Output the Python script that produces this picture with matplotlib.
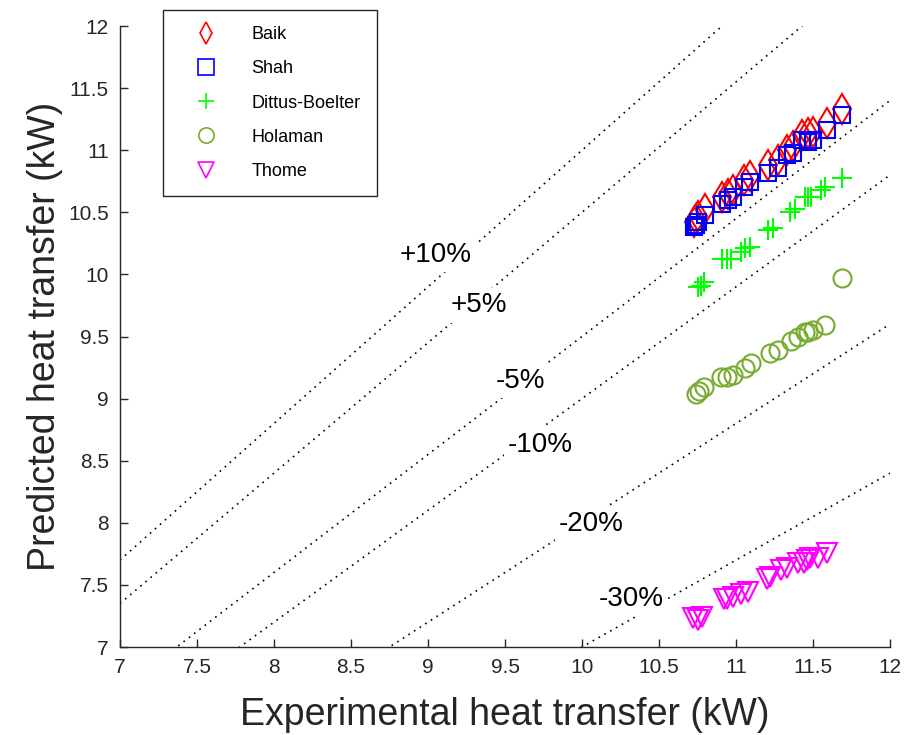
import numpy as np
import matplotlib
matplotlib.use("Agg")
import matplotlib.pyplot as plt

plt.rcParams['font.family'] = ['Liberation Sans', 'DejaVu Sans']

# ---- data ----
shah_x = [10.73, 10.74, 10.75, 10.80, 10.91, 10.95, 10.98, 11.05, 11.09, 11.21, 11.27, 11.33, 11.37, 11.43, 11.47, 11.50, 11.59, 11.69]
shah_y = [10.38, 10.40, 10.42, 10.48, 10.57, 10.60, 10.62, 10.70, 10.74, 10.82, 10.86, 10.96, 10.98, 11.08, 11.07, 11.08, 11.16, 11.28]

baik_x = [10.73, 10.74, 10.75, 10.80, 10.91, 10.95, 10.98, 11.05, 11.09, 11.21, 11.27, 11.33, 11.37, 11.43, 11.47, 11.50, 11.59, 11.69]
baik_y = [10.42, 10.45, 10.47, 10.53, 10.62, 10.65, 10.68, 10.76, 10.79, 10.88, 10.92, 11.00, 11.03, 11.12, 11.14, 11.15, 11.22, 11.33]

dittus_x = [10.75, 10.77, 10.79, 10.91, 10.94, 10.97, 11.03, 11.06, 11.09, 11.21, 11.24, 11.35, 11.38, 11.45, 11.47, 11.49, 11.55, 11.58, 11.69]
dittus_y = [9.90, 9.91, 9.94, 10.12, 10.12, 10.12, 10.18, 10.21, 10.22, 10.36, 10.37, 10.50, 10.53, 10.62, 10.62, 10.62, 10.68, 10.70, 10.78]

holaman_x = [10.74, 10.76, 10.79, 10.90, 10.94, 10.98, 11.06, 11.10, 11.22, 11.27, 11.36, 11.40, 11.45, 11.47, 11.50, 11.58, 11.69]
holaman_y = [9.04, 9.06, 9.09, 9.17, 9.17, 9.19, 9.25, 9.29, 9.37, 9.39, 9.46, 9.50, 9.54, 9.54, 9.55, 9.59, 9.97]

thome_x = [10.72, 10.75, 10.78, 10.92, 10.94, 10.98, 11.03, 11.08, 11.20, 11.22, 11.29, 11.33, 11.40, 11.44, 11.46, 11.48, 11.53, 11.59]
thome_y = [7.23, 7.22, 7.24, 7.39, 7.39, 7.40, 7.43, 7.44, 7.55, 7.56, 7.62, 7.64, 7.68, 7.68, 7.70, 7.72, 7.72, 7.76]

# error-band lines: predicted = factor * experimental
band_factors = [1.10, 1.05, 0.95, 0.90, 0.80, 0.70]
band_labels = ['+10%', '+5%', '-5%', '-10%', '-20%', '-30%']
band_label_x = [9.05, 9.33, 9.60, 9.73, 10.06, 10.32]
band_label_y = [10.16, 9.75, 9.14, 8.63, 7.99, 7.39]

ticks = [7, 7.5, 8, 8.5, 9, 9.5, 10, 10.5, 11, 11.5, 12]
tick_labels = ['7', '7.5', '8', '8.5', '9', '9.5', '10', '10.5', '11', '11.5', '12']

# ---- figure ----
fig = plt.figure(figsize=(9.2, 7.35), dpi=100)
ax = fig.add_axes([120/920, 88/735, 770/920, 621/735])

xs = np.linspace(7, 12, 400)
for k in band_factors:
    ax.plot(xs, k * xs, color='black', linestyle=(0, (1, 3)), linewidth=1.2, zorder=1)

for lx, ly, lab in zip(band_label_x, band_label_y, band_labels):
    ax.text(lx, ly, lab, fontsize=20, ha='center', va='center', color='black', zorder=3,
            bbox=dict(facecolor='white', edgecolor='none', pad=3))

mew = 1.5
ax.plot(baik_x, baik_y, linestyle='none', marker='d', markersize=15, markerfacecolor='none',
        markeredgecolor='#ff0000', markeredgewidth=mew, label='Baik', zorder=4)
ax.plot(shah_x, shah_y, linestyle='none', marker='s', markersize=11, markerfacecolor='none',
        markeredgecolor='#0000ff', markeredgewidth=mew, label='Shah', zorder=5)
ax.plot(dittus_x, dittus_y, linestyle='none', marker='+', markersize=15, markerfacecolor='none',
        markeredgecolor='#00ff00', markeredgewidth=mew, label='Dittus-Boelter', zorder=4)
ax.plot(holaman_x, holaman_y, linestyle='none', marker='o', markersize=13, markerfacecolor='none',
        markeredgecolor='#77ac30', markeredgewidth=mew, label='Holaman', zorder=4)
ax.plot(thome_x, thome_y, linestyle='none', marker='v', markersize=14, markerfacecolor='none',
        markeredgecolor='#ff00ff', markeredgewidth=mew, label='Thome', zorder=4)

ax.set_xlim(7, 12)
ax.set_ylim(7, 12)
ax.set_xticks(ticks)
ax.set_xticklabels(tick_labels)
ax.set_yticks(ticks)
ax.set_yticklabels(tick_labels)
ax.tick_params(direction='in', length=6, width=1, colors='#262626', labelsize=15, pad=8)
for side in ['top', 'right']:
    ax.spines[side].set_visible(False)
for side in ['left', 'bottom']:
    ax.spines[side].set_color('#262626')
    ax.spines[side].set_linewidth(1)

ax.set_xlabel('Experimental heat transfer (kW)', fontsize=27, color='#262626', labelpad=14)
ax.set_ylabel('Predicted heat transfer (kW)', fontsize=27, color='#262626', labelpad=4)

leg = ax.legend(loc='upper left', bbox_to_anchor=((163-120)/770, (647-10)/621),
                borderaxespad=0, fontsize=13, frameon=True, fancybox=False,
                borderpad=0.9, handlelength=3.0, handletextpad=1.0, labelspacing=0.95,
                edgecolor='#262626', framealpha=1)
leg.get_frame().set_linewidth(1)
for h in leg.legend_handles:
    h.set_markersize(11)
    h.set_markeredgewidth(1.2)

fig.savefig('out.png', dpi=100)
